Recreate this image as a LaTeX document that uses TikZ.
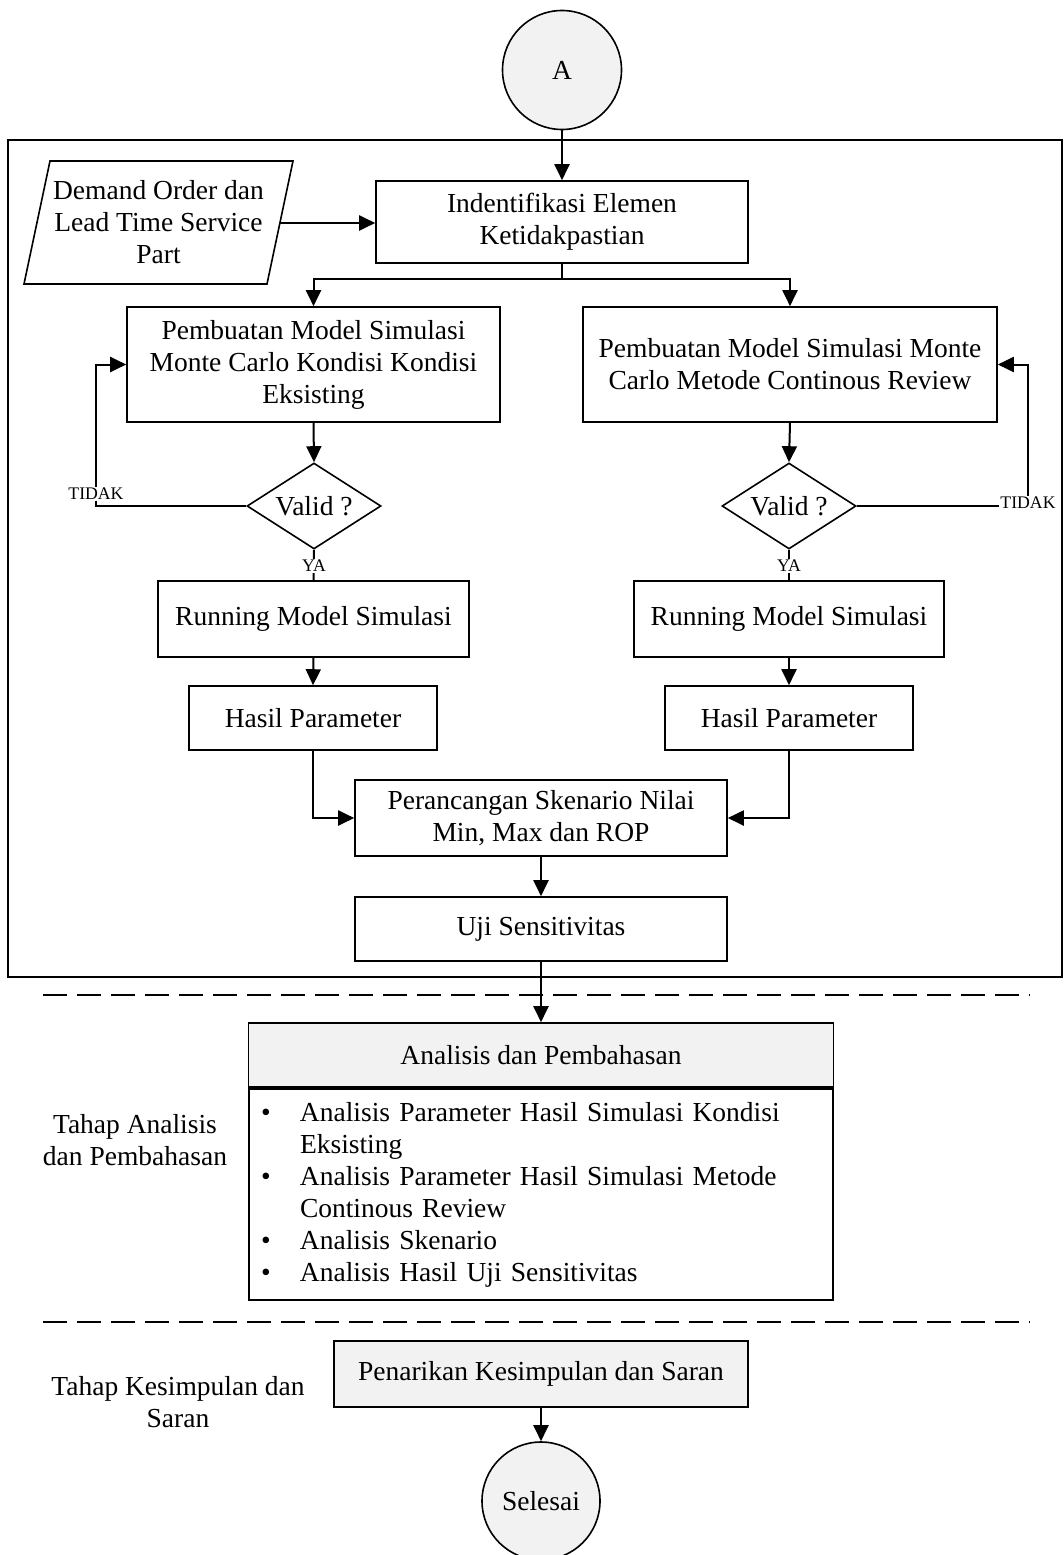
\documentclass[tikz,border=0pt]{standalone}
\usepackage{fontspec}
\setmainfont{Liberation Serif}
\usetikzlibrary{arrows.meta,shapes.geometric}
\definecolor{lgray}{HTML}{F2F2F2}
\begin{document}
\begin{tikzpicture}[x=1pt,y=-1pt,
  every node/.style={font=\fontsize{27.5}{32}\selectfont},
  box/.style={draw, line width=1.6pt, fill=white, inner sep=0pt, align=center},
  gbox/.style={box, fill=lgray},
  term/.style={draw, circle, line width=1.6pt, fill=lgray, inner sep=0pt},
  decision/.style={draw, diamond, aspect=1.56, line width=1.6pt, fill=white, inner sep=0pt, minimum width=134pt, minimum height=86pt},
  arr/.style={line width=2pt, -{Triangle[length=16pt,width=15pt]}},
  con/.style={line width=2pt},
  smalllabel/.style={font=\fontsize{17.7}{20}\selectfont, fill=white, inner sep=1pt},
  sidelabel/.style={align=center},
  dashline/.style={line width=2.5pt, dash pattern=on 24pt off 10pt},
  frame/.style={line width=1.3pt}
]
\useasboundingbox (0,0) rectangle (1063,1555);

% frame and stage separators
\draw[frame] (8,140) rectangle (1062,977);
\draw[dashline] (43,995) -- (1030,995);
\draw[dashline] (43,1322) -- (1030,1322);

% nodes
\node[term, minimum size=119pt] (A) at (562,70) {A};

\draw[line width=1.6pt, fill=white] (50,161) -- (293,161) -- (267,284) -- (24,284) -- cycle;
\node[align=center] (dem) at (158.5,222.5) {Demand Order dan\\Lead Time Service\\Part};
\coordinate (demR) at (280,223);

\node[box, minimum width=372pt, minimum height=82pt] (ident) at (562,222) {Indentifikasi Elemen\\Ketidakpastian};

\node[box, minimum width=373pt, minimum height=115pt] (pm1) at (313.5,364.5) {Pembuatan Model Simulasi\\Monte Carlo Kondisi Kondisi\\Eksisting};
\node[box, minimum width=414pt, minimum height=115pt] (pm2) at (790,364.5) {Pembuatan Model Simulasi Monte\\Carlo Metode Continous Review};

\node[decision] (d1) at (314,506) {Valid ?};
\node[decision] (d2) at (789,506) {Valid ?};

\node[box, minimum width=311pt, minimum height=76pt] (run1) at (313.5,619) {Running Model Simulasi};
\node[box, minimum width=310pt, minimum height=76pt] (run2) at (789,619) {Running Model Simulasi};

\node[box, minimum width=248pt, minimum height=64pt] (hp1) at (313,718) {Hasil Parameter};
\node[box, minimum width=248pt, minimum height=64pt] (hp2) at (789,718) {Hasil Parameter};

\node[box, minimum width=372pt, minimum height=76pt] (per) at (541,818) {Perancangan Skenario Nilai\\Min, Max dan ROP};
\node[box, minimum width=372pt, minimum height=64pt] (uji) at (541,929) {Uji Sensitivitas};

\node[gbox, minimum width=585pt, minimum height=64pt] (anal) at (541,1055) {Analisis dan Pembahasan};
\node[draw, line width=1.6pt, fill=white, text width=560pt, inner xsep=12pt, inner ysep=0pt, minimum height=211pt, align=left] (items) at (541,1194.5) {%
\makebox[39pt][l]{\textbullet}Analisis Parameter Hasil Simulasi Kondisi\\
\hspace*{39pt}Eksisting\\
\makebox[39pt][l]{\textbullet}Analisis Parameter Hasil Simulasi Metode\\
\hspace*{39pt}Continous Review\\
\makebox[39pt][l]{\textbullet}Analisis Skenario\\
\makebox[39pt][l]{\textbullet}Analisis Hasil Uji Sensitivitas};

\node[sidelabel] (tahap1) at (135,1140.5) {Tahap Analisis\\dan Pembahasan};
\node[sidelabel] (tahap2) at (178,1402) {Tahap Kesimpulan dan\\Saran};

\node[gbox, minimum width=414pt, minimum height=66pt] (pen) at (541,1374) {Penarikan Kesimpulan dan Saran};
\node[term, minimum size=118pt] (sel) at (541,1501) {Selesai};

% connectors
\draw[arr] (A.south) -- (ident.north);
\draw[arr] (demR) -- (ident.west |- demR);
\coordinate (split) at (562,279);
\draw[con] (ident.south) -- (split);
\draw[arr] (split) -| (pm1.north);
\draw[arr] (split) -| (pm2.north);
\draw[arr] (pm1.south) -- (d1.north);
\draw[arr] (pm2.south) -- (d2.north);
\coordinate (c1) at (96,506);
\coordinate (c2) at (1028,506);
\draw[arr] (d1.west) -- (c1) |- (pm1.west);
\draw[arr] (d2.east) -- (c2) |- (pm2.east);
\draw[con] (d1.south) -- (run1.north);
\draw[con] (d2.south) -- (run2.north);
\draw[arr] (run1.south) -- (hp1.north);
\draw[arr] (run2.south) -- (hp2.north);
\draw[arr] (hp1.south) |- (per.west);
\draw[arr] (hp2.south) |- (per.east);
\draw[arr] (per.south) -- (uji.north);
\draw[arr] (uji.south) -- (anal.north);
\draw[arr] (pen.south) -- (sel.north);

% connector labels
\node[smalllabel] (t1) at (96,494) {TIDAK};
\node[smalllabel] (t2) at (1028,503) {TIDAK};
\node[smalllabel] (y1) at (314,566) {YA};
\node[smalllabel] (y2) at (789,566) {YA};
\end{tikzpicture}
\end{document}
